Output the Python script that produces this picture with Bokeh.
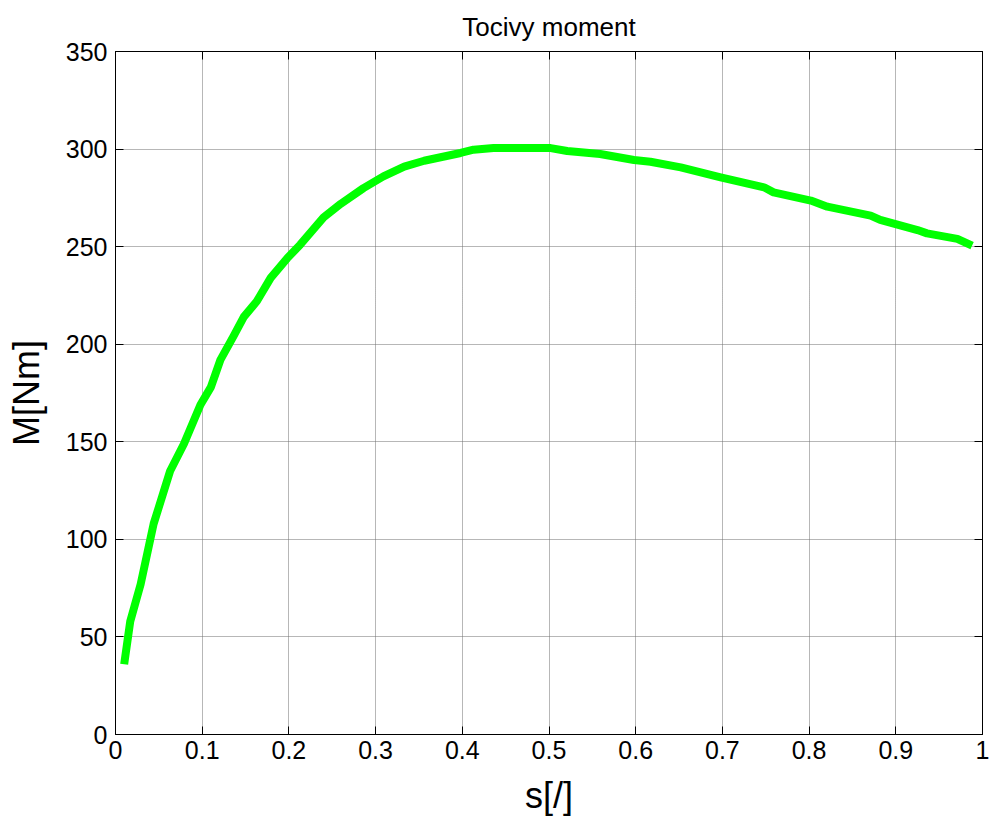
from bokeh.plotting import figure
from bokeh.models import Range1d, LinearAxis, FixedTicker, CustomJSTickFormatter
from bokeh.embed import file_html
from bokeh.resources import INLINE

# data
slip = [0.010, 0.017, 0.029, 0.044, 0.063, 0.079, 0.098, 0.110, 0.121, 0.136,
        0.148, 0.163, 0.179, 0.198, 0.213, 0.240, 0.260, 0.286, 0.309, 0.333,
        0.356, 0.398, 0.413, 0.436, 0.502, 0.521, 0.559, 0.598, 0.617, 0.652,
        0.698, 0.748, 0.759, 0.802, 0.821, 0.871, 0.882, 0.925, 0.936, 0.971, 0.988]
torque = [36.0, 58.0, 77.0, 108.0, 135.0, 149.0, 169.0, 178.0, 192.0, 204.0,
          214.0, 222.0, 234.0, 244.0, 251.0, 265.0, 272.0, 280.0, 286.0, 291.0,
          294.0, 298.0, 299.7, 300.5, 300.5, 299.0, 297.5, 294.4, 293.5, 290.6,
          285.5, 280.4, 277.8, 273.6, 270.5, 265.9, 263.7, 258.5, 256.8, 254.0, 250.5]

x_ticks = [0.0, 0.1, 0.2, 0.3, 0.4, 0.5, 0.6, 0.7, 0.8, 0.9, 1.0]
x_tick_labels = ["0", "0.1", "0.2", "0.3", "0.4", "0.5", "0.6", "0.7", "0.8", "0.9", "1"]
y_ticks = [0, 50, 100, 150, 200, 250, 300, 350]
y_tick_labels = ["0", "50", "100", "150", "200", "250", "300", "350"]

FONT = "Liberation Sans"

p = figure(width=990, height=821, frame_width=867, frame_height=683,
           output_backend="svg", toolbar_location=None,
           x_range=Range1d(0, 1), y_range=Range1d(0, 350),
           title="Tocivy moment",
           min_border_left=115, min_border_right=8, min_border_top=51, min_border_bottom=87)

p.title.align = "center"
p.title.text_font = FONT
p.title.text_font_size = "26px"
p.title.text_font_style = "normal"
p.title.text_color = "black"
p.title.text_line_height = 0.8
p.title.standoff = 19

p.outline_line_color = "black"
p.outline_line_width = 1
p.background_fill_color = "white"
p.border_fill_color = "white"

p.line(slip, torque, line_color="#00FF00", line_width=8, line_join="round", line_cap="butt")

for ax, ticks, labels in ((p.xaxis[0], x_ticks, x_tick_labels), (p.yaxis[0], y_ticks, y_tick_labels)):
    ax.ticker = FixedTicker(ticks=ticks)
    ax.major_label_overrides = {t: l for t, l in zip(ticks, labels)}
    ax.major_tick_in = 8
    ax.major_tick_out = 0
    ax.minor_tick_line_color = None
    ax.axis_line_color = "black"
    ax.major_tick_line_color = "black"
    ax.major_label_text_font = FONT
    ax.major_label_text_font_size = "25px"
    ax.major_label_text_color = "black"
    ax.axis_label_text_font = FONT
    ax.axis_label_text_font_size = "36px"
    ax.axis_label_text_font_style = "normal"
    ax.axis_label_text_color = "black"

p.xaxis[0].axis_label = "s[/]"
p.yaxis[0].axis_label = "M[Nm]"
p.xaxis[0].major_label_standoff = 6
p.yaxis[0].major_label_standoff = 8
p.xaxis[0].axis_label_standoff = 13
p.yaxis[0].axis_label_standoff = 16

blank = CustomJSTickFormatter(code="return ''")
top = LinearAxis(ticker=FixedTicker(ticks=x_ticks), formatter=blank,
                 major_tick_in=8, major_tick_out=0, minor_tick_line_color=None,
                 major_label_standoff=0, major_label_text_font_size="0px",
                 axis_line_color="black", major_tick_line_color="black")
right = LinearAxis(ticker=FixedTicker(ticks=y_ticks), formatter=blank,
                   major_tick_in=8, major_tick_out=0, minor_tick_line_color=None,
                   major_label_standoff=0, major_label_text_font_size="0px",
                   axis_line_color="black", major_tick_line_color="black")
p.add_layout(top, "above")
p.add_layout(right, "right")

p.xgrid.ticker = FixedTicker(ticks=x_ticks)
p.ygrid.ticker = FixedTicker(ticks=y_ticks)
for g in (p.xgrid[0], p.ygrid[0]):
    g.grid_line_color = "#6e6e6e"
    g.grid_line_dash = "1 1"
    g.grid_line_width = 1

open("out.html", "w").write(file_html(p, INLINE))
